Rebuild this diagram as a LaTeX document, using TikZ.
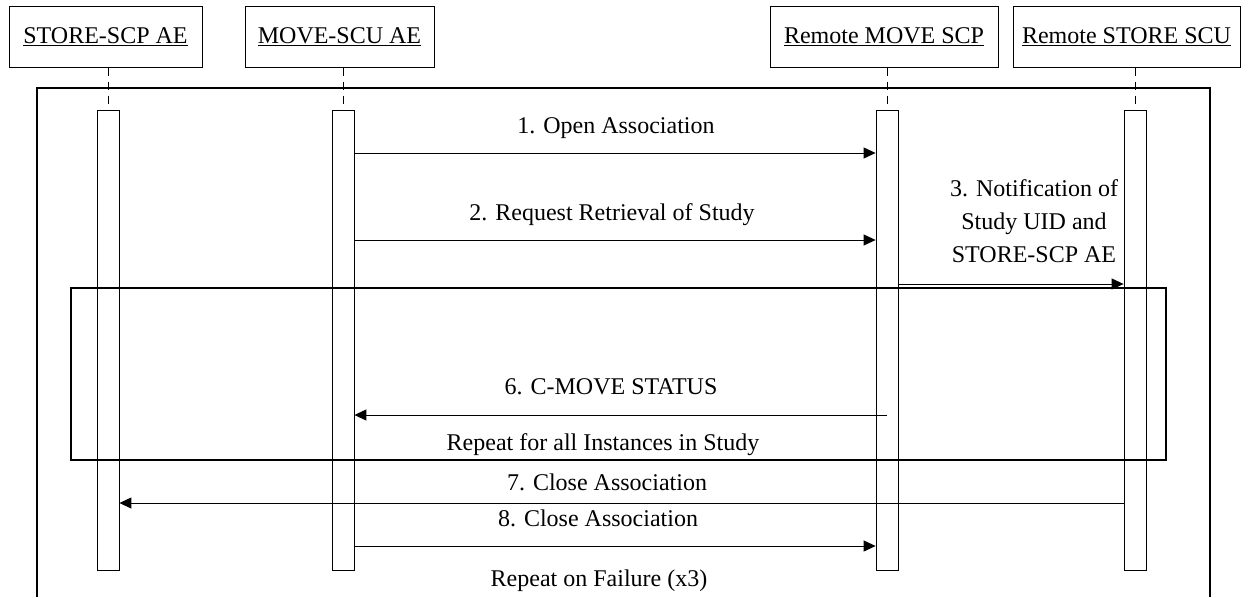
\documentclass[tikz,border=0pt]{standalone}
\usepackage{fontspec}
\setmainfont{Liberation Serif}
\usepackage{tikz}
\usetikzlibrary{arrows.meta,positioning}

\tikzset{
  actorbox/.style={draw, line width=1pt, minimum height=61pt, inner sep=0pt},
  actbar/.style={draw, line width=0.8pt, minimum width=22pt, minimum height=460pt, inner sep=0pt},
  lifeline/.style={line width=0.9pt, dash pattern=on 8pt off 6pt},
  msg/.style={line width=1pt, -{Triangle[length=12pt,width=11pt]}},
  msglabel/.style={inner sep=0pt, anchor=base},
  groupframe/.style={draw, line width=1.3pt, inner sep=0pt}
}

\begin{document}
\begin{tikzpicture}[x=1pt,y=-1pt,font=\fontsize{24}{33}\selectfont]
\useasboundingbox (0,0) rectangle (1249,597);

% actors
\node[actorbox, minimum width=193pt] (hdstore) at (105.5,36.5) {\underline{STORE-SCP AE}};
\node[actorbox, minimum width=189pt] (hdmove) at (339.5,36.5) {\underline{MOVE-SCU AE}};
\node[actorbox, minimum width=228pt] (hdmscp) at (884,36.5) {\underline{Remote MOVE SCP}};
\node[actorbox, minimum width=227pt] (hdsscu) at (1126.5,36.5) {\underline{Remote STORE SCU}};

% outer frame
\draw[line width=1.4pt] (37,597) -- (37,88) -- (1210,88) -- (1210,597);

% activation bars
\node[actbar] (barstore) at (108,340) {};
\node[actbar] (barmove) at (343,340) {};
\node[actbar] (barmscp) at (887,340) {};
\node[actbar] (barsscu) at (1135,340) {};

\foreach \hd/\bar in {hdstore/barstore, hdmove/barmove, hdmscp/barmscp, hdsscu/barsscu}
  \draw[lifeline] (\bar.north |- \hd.south) -- (\bar.north);

% repeat group
\node[groupframe, minimum width=1095pt, minimum height=172pt] (loopbox) at (618.5,374) {};

% messages
\draw[msg] (barmove.east |- 0,153) -- (barmscp.west |- 0,153);
\node[msglabel] (lbopen) at (616,133) {1. Open Association};

\draw[msg] (barmove.east |- 0,240) -- (barmscp.west |- 0,240);
\node[msglabel] (lbreq) at (612,220) {2. Request Retrieval of Study};

\draw[msg] (barmscp.east |- 0,284) -- (barsscu.west |- 0,284);
\node[align=center, inner sep=0pt] (lbnotify) at (1034,221) {3. Notification of\\Study UID and\\STORE-SCP AE};

\draw[msg] (barmscp.center |- 0,415) -- (barmove.east |- 0,415);
\node[msglabel] (lbstatus) at (611,394) {6. C-MOVE STATUS};

\node[msglabel] (lbrepeat) at (603,450) {Repeat for all Instances in Study};

\draw[msg] (barsscu.west |- 0,503) -- (barstore.east |- 0,503);
\node[msglabel] (lbclose) at (607,490) {7. Close Association};

\draw[msg] (barmove.east |- 0,546) -- (barmscp.west |- 0,546);
\node[msglabel] (lbclosetwo) at (598,526) {8. Close Association};

\node[msglabel] (lbfail) at (599,586) {Repeat on Failure (x3)};
\end{tikzpicture}
\end{document}
